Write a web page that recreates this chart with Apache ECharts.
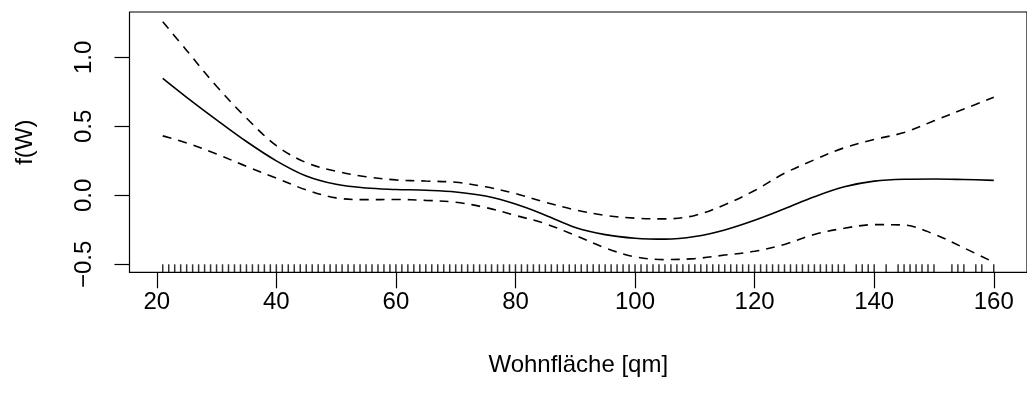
<!DOCTYPE html>
<html>
<head>
<meta charset="utf-8">
<script src="https://cdn.jsdelivr.net/npm/echarts@6/dist/echarts.min.js"></script>
<style>
html,body{margin:0;padding:0;background:#fff;}
#chart{width:1027px;height:396px;}
</style>
</head>
<body>
<div id="chart"></div>
<script>
// Wohnfläche grid (qm)
var xGrid = [21, 25, 30, 35, 40, 45, 50, 55, 60, 65, 70, 75, 80, 85, 90, 95, 100, 105, 110, 115, 120, 125, 130, 135, 140, 145, 150, 155, 160];
// estimated smooth effect f(W)
var fitVals = [0.847, 0.71, 0.547, 0.39, 0.25, 0.14, 0.08, 0.053, 0.043, 0.037, 0.025, -0.005, -0.063, -0.143, -0.232, -0.284, -0.31, -0.317, -0.298, -0.25, -0.18, -0.097, -0.01, 0.062, 0.103, 0.117, 0.119, 0.115, 0.109];
// upper confidence band
var upperVals = [1.258, 1.05, 0.79, 0.56, 0.36, 0.237, 0.175, 0.135, 0.112, 0.104, 0.095, 0.062, 0.013, -0.05, -0.105, -0.145, -0.165, -0.17, -0.145, -0.068, 0.035, 0.16, 0.258, 0.345, 0.405, 0.455, 0.54, 0.625, 0.71];
// lower confidence band
var lowerVals = [0.431, 0.38, 0.30, 0.21, 0.125, 0.04, -0.018, -0.031, -0.03, -0.036, -0.05, -0.088, -0.145, -0.205, -0.29, -0.38, -0.445, -0.465, -0.458, -0.432, -0.405, -0.355, -0.283, -0.238, -0.212, -0.215, -0.28, -0.38, -0.484];
// rug: observed living areas
var rugDense = [];
for (var v = 21; v <= 135; v++) rugDense.push(v);
var rugSparse = [137, 138, 139, 140, 142, 144, 145, 146, 147, 148, 149, 150, 153, 154, 155, 157, 158, 160];
var rugVals = rugDense.concat(rugSparse);
// tick labels
var xTicks = [20, 40, 60, 80, 100, 120, 140, 160];
var yTicks = [-0.5, 0, 0.5, 1.0];
var yTickLabels = {'-0.5': '\u22120.5', '0': '0.0', '0.5': '0.5', '1': '1.0'};

var xMin = 15.44, xMax = 165.56, yMin = -0.557, yMax = 1.328;

function pairs(xs, ys) { return xs.map(function (x, i) { return [x, ys[i]]; }); }

var font = "'Liberation Sans', Arial, Helvetica, sans-serif";
var chart = echarts.init(document.getElementById('chart'), null, {renderer: 'canvas'});
chart.setOption({
  animation: false,
  backgroundColor: '#fff',
  grid: {left: 129.5, top: 12, width: 905.5, height: 260.3, show: true, borderColor: '#000', borderWidth: 1.2, backgroundColor: 'transparent'},
  xAxis: {
    type: 'value', min: xMin, max: xMax,
    name: 'Wohnfläche [qm]', nameLocation: 'middle', nameGap: 81,
    nameTextStyle: {fontFamily: font, fontSize: 24, color: '#000'},
    axisLine: {show: false, onZero: false},
    axisTick: {show: true, inside: false, length: 16, customValues: xTicks, lineStyle: {color: '#000', width: 1.2}},
    axisLabel: {customValues: xTicks, margin: 18, fontFamily: font, fontSize: 24, color: '#000'},
    splitLine: {show: false}
  },
  yAxis: {
    type: 'value', min: yMin, max: yMax,
    name: 'f(W)', nameLocation: 'middle', nameGap: 92,
    nameTextStyle: {fontFamily: font, fontSize: 24, color: '#000'},
    axisLine: {show: false, onZero: false},
    axisTick: {show: true, inside: false, length: 15, customValues: yTicks, lineStyle: {color: '#000', width: 1.2}},
    axisLabel: {customValues: yTicks, rotate: 90, margin: 33, fontFamily: font, fontSize: 24, color: '#000',
      formatter: function (v) { var k = String(Math.round(v * 10) / 10); return yTickLabels[k] !== undefined ? yTickLabels[k] : v.toFixed(1); }},
    splitLine: {show: false}
  },
  series: [
    {type: 'line', data: pairs(xGrid, fitVals), smooth: 0.35, showSymbol: false, symbol: 'none',
      lineStyle: {color: '#000', width: 1.6, type: 'solid'}},
    {type: 'line', data: pairs(xGrid, upperVals), smooth: 0.35, showSymbol: false, symbol: 'none',
      lineStyle: {color: '#000', width: 1.6, type: [9, 7]}},
    {type: 'line', data: pairs(xGrid, lowerVals), smooth: 0.35, showSymbol: false, symbol: 'none',
      lineStyle: {color: '#000', width: 1.6, type: [9, 7]}},
    {type: 'scatter', data: rugVals.map(function (x) { return [x, yMin]; }),
      symbol: 'rect', symbolSize: [1.5, 8], symbolOffset: [0, -4],
      itemStyle: {color: '#000'}, silent: true}
  ]
});
</script>
</body>
</html>
